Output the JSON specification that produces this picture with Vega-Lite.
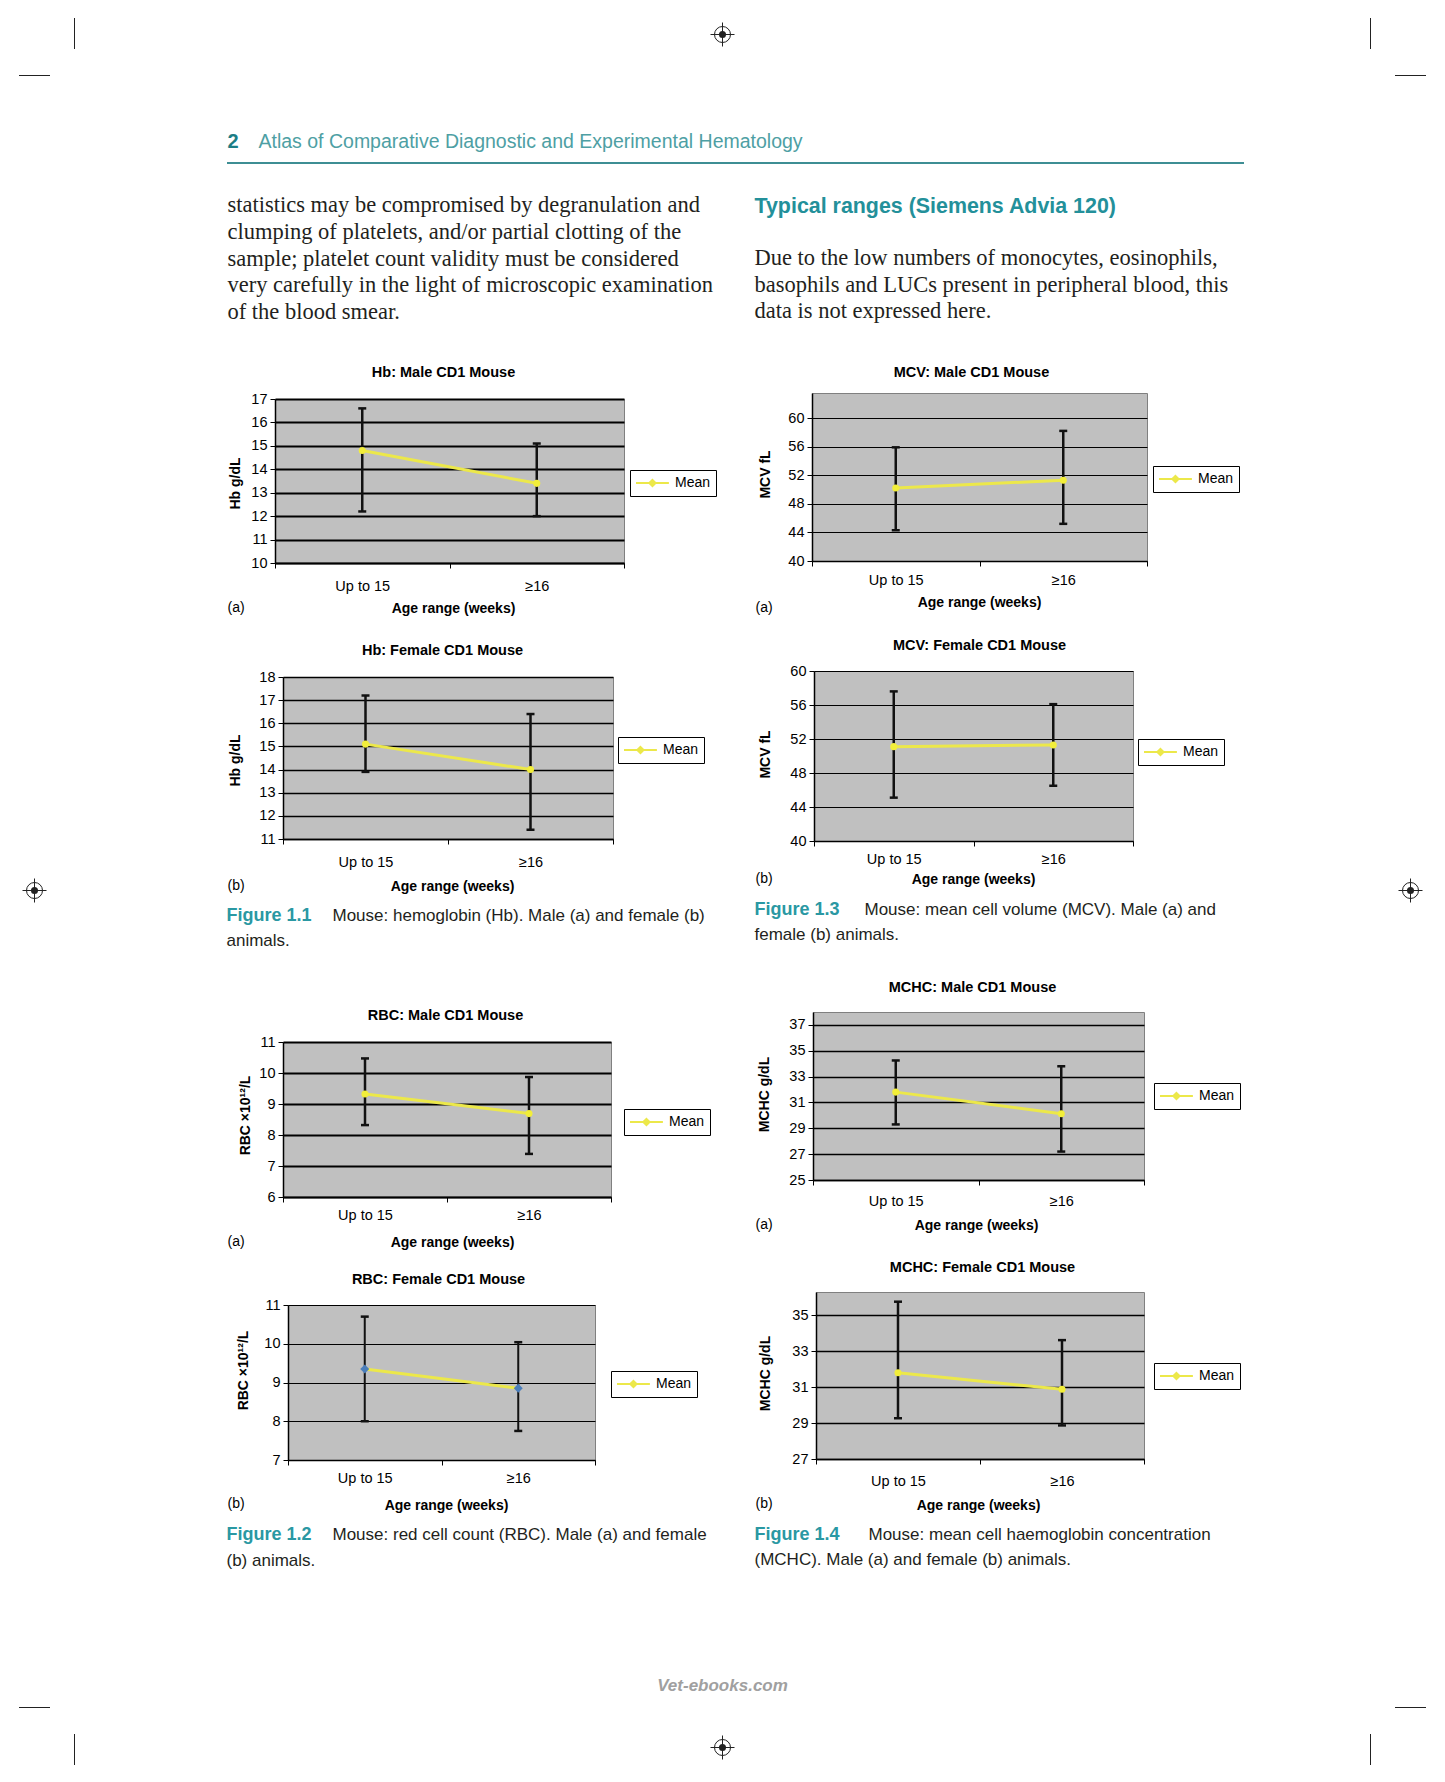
{
"$schema": "https://vega.github.io/schema/vega-lite/v6.json",
"padding": 0,
"background": "white",
"datasets": {"e": []},
"config": {
  "view": {"stroke": null},
  "font": "Liberation Sans",
  "axisX": {"labelAngle": 0, "labelFontSize": 14.5, "labelColor": "black", "tickBand": "extent", "tickSize": 5, "tickColor": "black", "domainColor": "black", "domainWidth": 1.5, "titleFontSize": 14, "titleFontWeight": "bold", "titleColor": "black", "titleBaseline": "middle", "titleAlign": "center", "grid": false},
  "axisY": {"labelFontSize": 14.5, "labelColor": "black", "labelPadding": 3, "labelOverlap": false, "tickSize": 5, "tickColor": "black", "domainColor": "black", "domainWidth": 1.5, "grid": true, "gridColor": "black", "titleFontSize": 14, "titleFontWeight": "bold", "titleColor": "black", "titleBaseline": "middle", "titleAlign": "center", "titleAngle": -90},
  "legend": {"padding": 5, "fillColor": "white", "strokeColor": "black", "symbolType": "M-1,0H3.7M1.35,-0.45L1.8,0L1.35,0.45L0.9,0Z", "symbolSize": 196, "labelOffset": 24, "labelFontSize": 14, "labelColor": "black", "labelFont": "Liberation Sans"}
},
"bounds": "flush",
"spacing": 0,
"resolve": {"scale": {"color": "independent"}, "legend": {"color": "independent"}},
"hconcat": [
{"vconcat": [{"width": 1, "height": 1, "view": {"fill": "white"}, "data": {"name": "e"}, "mark": "point"}], "spacing": 0, "bounds": "flush"},

{"vconcat": [{"width": 1, "height": 18, "data": {"name": "e"}, "mark": "point"}, {"hconcat": [{"width": 74, "height": 1, "data": {"name": "e"}, "mark": "point"}, {"width": 1, "height": 31, "view": {"fill": "#222"}, "data": {"name": "e"}, "mark": "point"}], "spacing": 0, "bounds": "flush"}], "spacing": 0, "bounds": "flush"},
{"vconcat": [{"width": 1, "height": 75, "data": {"name": "e"}, "mark": "point"}, {"hconcat": [{"width": 19, "height": 1, "data": {"name": "e"}, "mark": "point"}, {"width": 31, "height": 1, "view": {"fill": "#222"}, "data": {"name": "e"}, "mark": "point"}], "spacing": 0, "bounds": "flush"}], "spacing": 0, "bounds": "flush"},
{"vconcat": [{"width": 1, "height": 18, "data": {"name": "e"}, "mark": "point"}, {"hconcat": [{"width": 1370, "height": 1, "data": {"name": "e"}, "mark": "point"}, {"width": 1, "height": 31, "view": {"fill": "#222"}, "data": {"name": "e"}, "mark": "point"}], "spacing": 0, "bounds": "flush"}], "spacing": 0, "bounds": "flush"},
{"vconcat": [{"width": 1, "height": 75, "data": {"name": "e"}, "mark": "point"}, {"hconcat": [{"width": 1395, "height": 1, "data": {"name": "e"}, "mark": "point"}, {"width": 31, "height": 1, "view": {"fill": "#222"}, "data": {"name": "e"}, "mark": "point"}], "spacing": 0, "bounds": "flush"}], "spacing": 0, "bounds": "flush"},
{"vconcat": [{"width": 1, "height": 1707, "data": {"name": "e"}, "mark": "point"}, {"hconcat": [{"width": 19, "height": 1, "data": {"name": "e"}, "mark": "point"}, {"width": 31, "height": 1, "view": {"fill": "#222"}, "data": {"name": "e"}, "mark": "point"}], "spacing": 0, "bounds": "flush"}], "spacing": 0, "bounds": "flush"},
{"vconcat": [{"width": 1, "height": 1734, "data": {"name": "e"}, "mark": "point"}, {"hconcat": [{"width": 74, "height": 1, "data": {"name": "e"}, "mark": "point"}, {"width": 1, "height": 31, "view": {"fill": "#222"}, "data": {"name": "e"}, "mark": "point"}], "spacing": 0, "bounds": "flush"}], "spacing": 0, "bounds": "flush"},
{"vconcat": [{"width": 1, "height": 1707, "data": {"name": "e"}, "mark": "point"}, {"hconcat": [{"width": 1395, "height": 1, "data": {"name": "e"}, "mark": "point"}, {"width": 31, "height": 1, "view": {"fill": "#222"}, "data": {"name": "e"}, "mark": "point"}], "spacing": 0, "bounds": "flush"}], "spacing": 0, "bounds": "flush"},
{"vconcat": [{"width": 1, "height": 1734, "data": {"name": "e"}, "mark": "point"}, {"hconcat": [{"width": 1370, "height": 1, "data": {"name": "e"}, "mark": "point"}, {"width": 1, "height": 31, "view": {"fill": "#222"}, "data": {"name": "e"}, "mark": "point"}], "spacing": 0, "bounds": "flush"}], "spacing": 0, "bounds": "flush"},

{"vconcat": [{"width": 1, "height": 34, "data": {"name": "e"}, "mark": "point"}, {"hconcat": [{"width": 722, "height": 1, "data": {"name": "e"}, "mark": "point"}, {"width": 1, "height": 1, "data": {"values": [{"k": 1}]}, "layer": [{"mark": {"type": "point", "shape": "circle", "size": 256, "filled": false, "color": "#222", "strokeWidth": 1, "opacity": 1}, "encoding": {}}, {"mark": {"type": "point", "shape": "M-1,0H1M0,-1V1", "size": 576, "filled": false, "color": "#222", "strokeWidth": 1, "opacity": 1}, "encoding": {}}, {"mark": {"type": "point", "shape": "circle", "size": 50, "filled": true, "color": "#222", "opacity": 1}, "encoding": {}}]}], "spacing": 0, "bounds": "flush"}], "spacing": 0, "bounds": "flush"},
{"vconcat": [{"width": 1, "height": 890, "data": {"name": "e"}, "mark": "point"}, {"hconcat": [{"width": 34, "height": 1, "data": {"name": "e"}, "mark": "point"}, {"width": 1, "height": 1, "data": {"values": [{"k": 1}]}, "layer": [{"mark": {"type": "point", "shape": "circle", "size": 256, "filled": false, "color": "#222", "strokeWidth": 1, "opacity": 1}, "encoding": {}}, {"mark": {"type": "point", "shape": "M-1,0H1M0,-1V1", "size": 576, "filled": false, "color": "#222", "strokeWidth": 1, "opacity": 1}, "encoding": {}}, {"mark": {"type": "point", "shape": "circle", "size": 50, "filled": true, "color": "#222", "opacity": 1}, "encoding": {}}]}], "spacing": 0, "bounds": "flush"}], "spacing": 0, "bounds": "flush"},
{"vconcat": [{"width": 1, "height": 890, "data": {"name": "e"}, "mark": "point"}, {"hconcat": [{"width": 1410, "height": 1, "data": {"name": "e"}, "mark": "point"}, {"width": 1, "height": 1, "data": {"values": [{"k": 1}]}, "layer": [{"mark": {"type": "point", "shape": "circle", "size": 256, "filled": false, "color": "#222", "strokeWidth": 1, "opacity": 1}, "encoding": {}}, {"mark": {"type": "point", "shape": "M-1,0H1M0,-1V1", "size": 576, "filled": false, "color": "#222", "strokeWidth": 1, "opacity": 1}, "encoding": {}}, {"mark": {"type": "point", "shape": "circle", "size": 50, "filled": true, "color": "#222", "opacity": 1}, "encoding": {}}]}], "spacing": 0, "bounds": "flush"}], "spacing": 0, "bounds": "flush"},
{"vconcat": [{"width": 1, "height": 1747, "data": {"name": "e"}, "mark": "point"}, {"hconcat": [{"width": 722, "height": 1, "data": {"name": "e"}, "mark": "point"}, {"width": 1, "height": 1, "data": {"values": [{"k": 1}]}, "layer": [{"mark": {"type": "point", "shape": "circle", "size": 256, "filled": false, "color": "#222", "strokeWidth": 1, "opacity": 1}, "encoding": {}}, {"mark": {"type": "point", "shape": "M-1,0H1M0,-1V1", "size": 576, "filled": false, "color": "#222", "strokeWidth": 1, "opacity": 1}, "encoding": {}}, {"mark": {"type": "point", "shape": "circle", "size": 50, "filled": true, "color": "#222", "opacity": 1}, "encoding": {}}]}], "spacing": 0, "bounds": "flush"}], "spacing": 0, "bounds": "flush"},

{"vconcat": [{"width": 1, "height": 141, "data": {"name": "e"}, "mark": "point"}, {"hconcat": [{"width": 227, "height": 1, "data": {"name": "e"}, "mark": "point"}, {"width": 1, "height": 1, "data": {"values": [{"t": "2"}]}, "mark": {"type": "text", "align": "left", "baseline": "middle", "fontSize": 20, "fontWeight": "bold", "color": "#1C7E86"}, "encoding": {"text": {"field": "t"}}}], "spacing": 0, "bounds": "flush"}], "spacing": 0, "bounds": "flush"},
{"vconcat": [{"width": 1, "height": 141, "data": {"name": "e"}, "mark": "point"}, {"hconcat": [{"width": 258, "height": 1, "data": {"name": "e"}, "mark": "point"}, {"width": 1, "height": 1, "data": {"values": [{"t": "Atlas of Comparative Diagnostic and Experimental Hematology"}]}, "mark": {"type": "text", "align": "left", "baseline": "middle", "fontSize": 19.5, "color": "#4E9FA4"}, "encoding": {"text": {"field": "t"}}}], "spacing": 0, "bounds": "flush"}], "spacing": 0, "bounds": "flush"},
{"vconcat": [{"width": 1, "height": 162, "data": {"name": "e"}, "mark": "point"}, {"hconcat": [{"width": 227, "height": 1, "data": {"name": "e"}, "mark": "point"}, {"width": 1017, "height": 2, "view": {"fill": "#3E8E94"}, "data": {"name": "e"}, "mark": "point"}], "spacing": 0, "bounds": "flush"}], "spacing": 0, "bounds": "flush"},

{"vconcat": [{"width": 1, "height": 205, "data": {"name": "e"}, "mark": "point"}, {"hconcat": [{"width": 227, "height": 1, "data": {"name": "e"}, "mark": "point"}, {"width": 1, "height": 107, "data": {"values": [
  {"line": 1, "t": "statistics may be compromised by degranulation and"},
  {"line": 2, "t": "clumping of platelets, and/or partial clotting of the"},
  {"line": 3, "t": "sample; platelet count validity must be considered"},
  {"line": 4, "t": "very carefully in the light of microscopic examination"},
  {"line": 5, "t": "of the blood smear."}]}, "mark": {"type": "text", "align": "left", "baseline": "middle", "font": "Liberation Serif", "fontSize": 22.5, "color": "#231F20"}, "encoding": {"y": {"field": "line", "type": "quantitative", "scale": {"domain": [1, 5], "zero": false, "nice": false, "reverse": true}, "axis": null}, "text": {"field": "t"}}}], "spacing": 0, "bounds": "flush"}], "spacing": 0, "bounds": "flush"},
{"vconcat": [{"width": 1, "height": 206, "data": {"name": "e"}, "mark": "point"}, {"hconcat": [{"width": 754, "height": 1, "data": {"name": "e"}, "mark": "point"}, {"width": 1, "height": 1, "data": {"values": [{"t": "Typical ranges (Siemens Advia 120)"}]}, "mark": {"type": "text", "align": "left", "baseline": "middle", "fontSize": 21.4, "fontWeight": "bold", "color": "#23909A"}, "encoding": {"text": {"field": "t"}}}], "spacing": 0, "bounds": "flush"}], "spacing": 0, "bounds": "flush"},
{"vconcat": [{"width": 1, "height": 258, "data": {"name": "e"}, "mark": "point"}, {"hconcat": [{"width": 754, "height": 1, "data": {"name": "e"}, "mark": "point"}, {"width": 1, "height": 53, "data": {"values": [
  {"line": 1, "t": "Due to the low numbers of monocytes, eosinophils,"},
  {"line": 2, "t": "basophils and LUCs present in peripheral blood, this"},
  {"line": 3, "t": "data is not expressed here."}]}, "mark": {"type": "text", "align": "left", "baseline": "middle", "font": "Liberation Serif", "fontSize": 22.5, "color": "#231F20"}, "encoding": {"y": {"field": "line", "type": "quantitative", "scale": {"domain": [1, 3], "zero": false, "nice": false, "reverse": true}, "axis": null}, "text": {"field": "t"}}}], "spacing": 0, "bounds": "flush"}], "spacing": 0, "bounds": "flush"},

{"vconcat": [{"width": 1, "height": 399, "data": {"name": "e"}, "mark": "point"}, {"hconcat": [{"width": 275, "height": 1, "data": {"name": "e"}, "mark": "point"},
 {"width": 349, "height": 164, "view": {"fill": "#C0C0C0", "stroke": "#808080"},
  "data": {"values": [{"age": "Up to 15", "mean": 14.8, "lo": 12.2, "hi": 16.6, "series": "Mean"}, {"age": "≥16", "mean": 13.4, "lo": 12.0, "hi": 15.1, "series": "Mean"}]},
  "encoding": {"x": {"field": "age", "type": "nominal", "sort": null, "scale": {"type": "band", "paddingInner": 0, "paddingOuter": 0}, "axis": {"title": "Age range (weeks)", "titleX": 178, "titleY": 45, "labelPadding": 11.4}}},
  "layer": [
   {"mark": {"type": "rule", "color": "#111", "strokeWidth": 2.5}, "encoding": {"y": {"field": "lo", "type": "quantitative", "title": "Hb g/dL", "scale": {"domain": [10, 17], "nice": false, "zero": false}, "axis": {"values": [10, 11, 12, 13, 14, 15, 16, 17], "format": "d", "tickCount": 30, "labelOverlap": false, "gridWidth": 2, "titleX": -40, "titleY": 84}}, "y2": {"field": "hi"}}},
   {"mark": {"type": "tick", "color": "#111", "thickness": 2.5, "size": 8, "opacity": 1}, "encoding": {"y": {"field": "lo", "type": "quantitative", "title": "Hb g/dL"}}},
   {"mark": {"type": "tick", "color": "#111", "thickness": 2.5, "size": 8, "opacity": 1}, "encoding": {"y": {"field": "hi", "type": "quantitative", "title": "Hb g/dL"}}},
   {"mark": {"type": "line", "strokeWidth": 3}, "encoding": {"y": {"field": "mean", "type": "quantitative", "title": "Hb g/dL"}, "color": {"field": "series", "type": "nominal", "scale": {"range": ["#ECE84A"]}, "legend": {"orient": "none", "legendX": 355, "legendY": 71, "title": null, "encode": {"symbols": {"update": {"fill": {"value": "#F2EE3A"}, "stroke": {"value": "#ECE84A"}, "strokeWidth": {"value": 2}, "opacity": {"value": 1}}}}}}}},
   {"mark": {"type": "point", "filled": true, "size": 50, "color": "#F2EE3A", "opacity": 1}, "encoding": {"y": {"field": "mean", "type": "quantitative", "title": "Hb g/dL"}}}
  ]}
 ], "spacing": 0, "bounds": "flush", "resolve": {"scale": {"color": "independent"}, "legend": {"color": "independent"}}}], "spacing": 0, "bounds": "flush", "resolve": {"scale": {"color": "independent"}, "legend": {"color": "independent"}}},

{"vconcat": [{"width": 1, "height": 393, "data": {"name": "e"}, "mark": "point"}, {"hconcat": [{"width": 812, "height": 1, "data": {"name": "e"}, "mark": "point"},
 {"width": 335, "height": 168, "view": {"fill": "#C0C0C0", "stroke": "#808080"},
  "data": {"values": [{"age": "Up to 15", "mean": 50.2, "lo": 44.3, "hi": 55.9, "series": "Mean"}, {"age": "≥16", "mean": 51.3, "lo": 45.2, "hi": 58.2, "series": "Mean"}]},
  "encoding": {"x": {"field": "age", "type": "nominal", "sort": null, "scale": {"type": "band", "paddingInner": 0, "paddingOuter": 0}, "axis": {"title": "Age range (weeks)", "titleX": 167, "titleY": 41, "labelPadding": 7.7}}},
  "layer": [
   {"mark": {"type": "rule", "color": "#111", "strokeWidth": 2.5}, "encoding": {"y": {"field": "lo", "type": "quantitative", "title": "MCV fL", "scale": {"domain": [40, 63.5], "nice": false, "zero": false}, "axis": {"values": [40, 44, 48, 52, 56, 60], "format": "d", "tickCount": 30, "labelOverlap": false, "gridWidth": 1, "titleX": -47, "titleY": 81}}, "y2": {"field": "hi"}}},
   {"mark": {"type": "tick", "color": "#111", "thickness": 2.5, "size": 8, "opacity": 1}, "encoding": {"y": {"field": "lo", "type": "quantitative", "title": "MCV fL"}}},
   {"mark": {"type": "tick", "color": "#111", "thickness": 2.5, "size": 8, "opacity": 1}, "encoding": {"y": {"field": "hi", "type": "quantitative", "title": "MCV fL"}}},
   {"mark": {"type": "line", "strokeWidth": 3}, "encoding": {"y": {"field": "mean", "type": "quantitative", "title": "MCV fL"}, "color": {"field": "series", "type": "nominal", "scale": {"range": ["#ECE84A"]}, "legend": {"orient": "none", "legendX": 341, "legendY": 73, "title": null, "encode": {"symbols": {"update": {"fill": {"value": "#F2EE3A"}, "stroke": {"value": "#ECE84A"}, "strokeWidth": {"value": 2}, "opacity": {"value": 1}}}}}}}},
   {"mark": {"type": "point", "filled": true, "size": 50, "color": "#F2EE3A", "opacity": 1}, "encoding": {"y": {"field": "mean", "type": "quantitative", "title": "MCV fL"}}}
  ]}
 ], "spacing": 0, "bounds": "flush", "resolve": {"scale": {"color": "independent"}, "legend": {"color": "independent"}}}], "spacing": 0, "bounds": "flush", "resolve": {"scale": {"color": "independent"}, "legend": {"color": "independent"}}},

{"vconcat": [{"width": 1, "height": 677, "data": {"name": "e"}, "mark": "point"}, {"hconcat": [{"width": 283, "height": 1, "data": {"name": "e"}, "mark": "point"},
 {"width": 330, "height": 162, "view": {"fill": "#C0C0C0", "stroke": "#808080"},
  "data": {"values": [{"age": "Up to 15", "mean": 15.1, "lo": 13.9, "hi": 17.2, "series": "Mean"}, {"age": "≥16", "mean": 14.0, "lo": 11.4, "hi": 16.4, "series": "Mean"}]},
  "encoding": {"x": {"field": "age", "type": "nominal", "sort": null, "scale": {"type": "band", "paddingInner": 0, "paddingOuter": 0}, "axis": {"title": "Age range (weeks)", "titleX": 169, "titleY": 47, "labelPadding": 11.4}}},
  "layer": [
   {"mark": {"type": "rule", "color": "#111", "strokeWidth": 2.5}, "encoding": {"y": {"field": "lo", "type": "quantitative", "title": "Hb g/dL", "scale": {"domain": [11, 18], "nice": false, "zero": false}, "axis": {"values": [11, 12, 13, 14, 15, 16, 17, 18], "format": "d", "tickCount": 30, "labelOverlap": false, "gridWidth": 1.5, "titleX": -48, "titleY": 83}}, "y2": {"field": "hi"}}},
   {"mark": {"type": "tick", "color": "#111", "thickness": 2.5, "size": 8, "opacity": 1}, "encoding": {"y": {"field": "lo", "type": "quantitative", "title": "Hb g/dL"}}},
   {"mark": {"type": "tick", "color": "#111", "thickness": 2.5, "size": 8, "opacity": 1}, "encoding": {"y": {"field": "hi", "type": "quantitative", "title": "Hb g/dL"}}},
   {"mark": {"type": "line", "strokeWidth": 3}, "encoding": {"y": {"field": "mean", "type": "quantitative", "title": "Hb g/dL"}, "color": {"field": "series", "type": "nominal", "scale": {"range": ["#ECE84A"]}, "legend": {"orient": "none", "legendX": 335, "legendY": 60, "title": null, "encode": {"symbols": {"update": {"fill": {"value": "#F2EE3A"}, "stroke": {"value": "#ECE84A"}, "strokeWidth": {"value": 2}, "opacity": {"value": 1}}}}}}}},
   {"mark": {"type": "point", "filled": true, "size": 50, "color": "#F2EE3A", "opacity": 1}, "encoding": {"y": {"field": "mean", "type": "quantitative", "title": "Hb g/dL"}}}
  ]}
 ], "spacing": 0, "bounds": "flush", "resolve": {"scale": {"color": "independent"}, "legend": {"color": "independent"}}}], "spacing": 0, "bounds": "flush", "resolve": {"scale": {"color": "independent"}, "legend": {"color": "independent"}}},

{"vconcat": [{"width": 1, "height": 671, "data": {"name": "e"}, "mark": "point"}, {"hconcat": [{"width": 814, "height": 1, "data": {"name": "e"}, "mark": "point"},
 {"width": 319, "height": 170, "view": {"fill": "#C0C0C0", "stroke": "#808080"},
  "data": {"values": [{"age": "Up to 15", "mean": 51.1, "lo": 45.1, "hi": 57.6, "series": "Mean"}, {"age": "≥16", "mean": 51.3, "lo": 46.5, "hi": 56.1, "series": "Mean"}]},
  "encoding": {"x": {"field": "age", "type": "nominal", "sort": null, "scale": {"type": "band", "paddingInner": 0, "paddingOuter": 0}, "axis": {"title": "Age range (weeks)", "titleX": 159, "titleY": 38, "labelPadding": 6.7}}},
  "layer": [
   {"mark": {"type": "rule", "color": "#111", "strokeWidth": 2.5}, "encoding": {"y": {"field": "lo", "type": "quantitative", "title": "MCV fL", "scale": {"domain": [40, 60], "nice": false, "zero": false}, "axis": {"values": [40, 44, 48, 52, 56, 60], "format": "d", "tickCount": 30, "labelOverlap": false, "gridWidth": 1, "titleX": -49, "titleY": 83}}, "y2": {"field": "hi"}}},
   {"mark": {"type": "tick", "color": "#111", "thickness": 2.5, "size": 8, "opacity": 1}, "encoding": {"y": {"field": "lo", "type": "quantitative", "title": "MCV fL"}}},
   {"mark": {"type": "tick", "color": "#111", "thickness": 2.5, "size": 8, "opacity": 1}, "encoding": {"y": {"field": "hi", "type": "quantitative", "title": "MCV fL"}}},
   {"mark": {"type": "line", "strokeWidth": 3}, "encoding": {"y": {"field": "mean", "type": "quantitative", "title": "MCV fL"}, "color": {"field": "series", "type": "nominal", "scale": {"range": ["#ECE84A"]}, "legend": {"orient": "none", "legendX": 324, "legendY": 68, "title": null, "encode": {"symbols": {"update": {"fill": {"value": "#F2EE3A"}, "stroke": {"value": "#ECE84A"}, "strokeWidth": {"value": 2}, "opacity": {"value": 1}}}}}}}},
   {"mark": {"type": "point", "filled": true, "size": 50, "color": "#F2EE3A", "opacity": 1}, "encoding": {"y": {"field": "mean", "type": "quantitative", "title": "MCV fL"}}}
  ]}
 ], "spacing": 0, "bounds": "flush", "resolve": {"scale": {"color": "independent"}, "legend": {"color": "independent"}}}], "spacing": 0, "bounds": "flush", "resolve": {"scale": {"color": "independent"}, "legend": {"color": "independent"}}},

{"vconcat": [{"width": 1, "height": 1042, "data": {"name": "e"}, "mark": "point"}, {"hconcat": [{"width": 283, "height": 1, "data": {"name": "e"}, "mark": "point"},
 {"width": 328, "height": 155, "view": {"fill": "#C0C0C0", "stroke": "#808080"},
  "data": {"values": [{"age": "Up to 15", "mean": 9.32, "lo": 8.32, "hi": 10.47, "series": "Mean"}, {"age": "≥16", "mean": 8.69, "lo": 7.39, "hi": 9.87, "series": "Mean"}]},
  "encoding": {"x": {"field": "age", "type": "nominal", "sort": null, "scale": {"type": "band", "paddingInner": 0, "paddingOuter": 0}, "axis": {"title": "Age range (weeks)", "titleX": 169, "titleY": 45, "labelPadding": 6.7}}},
  "layer": [
   {"mark": {"type": "rule", "color": "#111", "strokeWidth": 2.5}, "encoding": {"y": {"field": "lo", "type": "quantitative", "title": "RBC ×10¹²/L", "scale": {"domain": [6, 11], "nice": false, "zero": false}, "axis": {"values": [6, 7, 8, 9, 10, 11], "format": "d", "tickCount": 30, "labelOverlap": false, "gridWidth": 2, "titleX": -38, "titleY": 73}}, "y2": {"field": "hi"}}},
   {"mark": {"type": "tick", "color": "#111", "thickness": 2.5, "size": 8, "opacity": 1}, "encoding": {"y": {"field": "lo", "type": "quantitative", "title": "RBC ×10¹²/L"}}},
   {"mark": {"type": "tick", "color": "#111", "thickness": 2.5, "size": 8, "opacity": 1}, "encoding": {"y": {"field": "hi", "type": "quantitative", "title": "RBC ×10¹²/L"}}},
   {"mark": {"type": "line", "strokeWidth": 3}, "encoding": {"y": {"field": "mean", "type": "quantitative", "title": "RBC ×10¹²/L"}, "color": {"field": "series", "type": "nominal", "scale": {"range": ["#ECE84A"]}, "legend": {"orient": "none", "legendX": 341, "legendY": 67, "title": null, "encode": {"symbols": {"update": {"fill": {"value": "#F2EE3A"}, "stroke": {"value": "#ECE84A"}, "strokeWidth": {"value": 2}, "opacity": {"value": 1}}}}}}}},
   {"mark": {"type": "point", "filled": true, "size": 50, "color": "#F2EE3A", "opacity": 1}, "encoding": {"y": {"field": "mean", "type": "quantitative", "title": "RBC ×10¹²/L"}}}
  ]}
 ], "spacing": 0, "bounds": "flush", "resolve": {"scale": {"color": "independent"}, "legend": {"color": "independent"}}}], "spacing": 0, "bounds": "flush", "resolve": {"scale": {"color": "independent"}, "legend": {"color": "independent"}}},

{"vconcat": [{"width": 1, "height": 1012, "data": {"name": "e"}, "mark": "point"}, {"hconcat": [{"width": 813, "height": 1, "data": {"name": "e"}, "mark": "point"},
 {"width": 331, "height": 168, "view": {"fill": "#C0C0C0", "stroke": "#808080"},
  "data": {"values": [{"age": "Up to 15", "mean": 31.8, "lo": 29.3, "hi": 34.25, "series": "Mean"}, {"age": "≥16", "mean": 30.13, "lo": 27.2, "hi": 33.8, "series": "Mean"}]},
  "encoding": {"x": {"field": "age", "type": "nominal", "sort": null, "scale": {"type": "band", "paddingInner": 0, "paddingOuter": 0}, "axis": {"title": "Age range (weeks)", "titleX": 163, "titleY": 45, "labelPadding": 9.7}}},
  "layer": [
   {"mark": {"type": "rule", "color": "#111", "strokeWidth": 2.5}, "encoding": {"y": {"field": "lo", "type": "quantitative", "title": "MCHC g/dL", "scale": {"domain": [25, 38], "nice": false, "zero": false}, "axis": {"values": [25, 27, 29, 31, 33, 35, 37], "format": "d", "tickCount": 30, "labelOverlap": false, "gridWidth": 1.5, "titleX": -49, "titleY": 82}}, "y2": {"field": "hi"}}},
   {"mark": {"type": "tick", "color": "#111", "thickness": 2.5, "size": 8, "opacity": 1}, "encoding": {"y": {"field": "lo", "type": "quantitative", "title": "MCHC g/dL"}}},
   {"mark": {"type": "tick", "color": "#111", "thickness": 2.5, "size": 8, "opacity": 1}, "encoding": {"y": {"field": "hi", "type": "quantitative", "title": "MCHC g/dL"}}},
   {"mark": {"type": "line", "strokeWidth": 3}, "encoding": {"y": {"field": "mean", "type": "quantitative", "title": "MCHC g/dL"}, "color": {"field": "series", "type": "nominal", "scale": {"range": ["#ECE84A"]}, "legend": {"orient": "none", "legendX": 341, "legendY": 71, "title": null, "encode": {"symbols": {"update": {"fill": {"value": "#F2EE3A"}, "stroke": {"value": "#ECE84A"}, "strokeWidth": {"value": 2}, "opacity": {"value": 1}}}}}}}},
   {"mark": {"type": "point", "filled": true, "size": 50, "color": "#F2EE3A", "opacity": 1}, "encoding": {"y": {"field": "mean", "type": "quantitative", "title": "MCHC g/dL"}}}
  ]}
 ], "spacing": 0, "bounds": "flush", "resolve": {"scale": {"color": "independent"}, "legend": {"color": "independent"}}}], "spacing": 0, "bounds": "flush", "resolve": {"scale": {"color": "independent"}, "legend": {"color": "independent"}}},

{"vconcat": [{"width": 1, "height": 1305, "data": {"name": "e"}, "mark": "point"}, {"hconcat": [{"width": 288, "height": 1, "data": {"name": "e"}, "mark": "point"},
 {"width": 307, "height": 155, "view": {"fill": "#C0C0C0", "stroke": "#808080"},
  "data": {"values": [{"age": "Up to 15", "mean": 9.35, "lo": 8.0, "hi": 10.7, "series": "Mean"}, {"age": "≥16", "mean": 8.85, "lo": 7.75, "hi": 10.04, "series": "Mean"}]},
  "encoding": {"x": {"field": "age", "type": "nominal", "sort": null, "scale": {"type": "band", "paddingInner": 0, "paddingOuter": 0}, "axis": {"title": "Age range (weeks)", "titleX": 158, "titleY": 45, "labelPadding": 6.4}}},
  "layer": [
   {"mark": {"type": "rule", "color": "#111", "strokeWidth": 2}, "encoding": {"y": {"field": "lo", "type": "quantitative", "title": "RBC ×10¹²/L", "scale": {"domain": [7, 11], "nice": false, "zero": false}, "axis": {"values": [7, 8, 9, 10, 11], "format": "d", "tickCount": 30, "labelOverlap": false, "gridWidth": 1.2, "titleX": -45, "titleY": 65}}, "y2": {"field": "hi"}}},
   {"mark": {"type": "tick", "color": "#111", "thickness": 2.5, "size": 8, "opacity": 1}, "encoding": {"y": {"field": "lo", "type": "quantitative", "title": "RBC ×10¹²/L"}}},
   {"mark": {"type": "tick", "color": "#111", "thickness": 2.5, "size": 8, "opacity": 1}, "encoding": {"y": {"field": "hi", "type": "quantitative", "title": "RBC ×10¹²/L"}}},
   {"mark": {"type": "line", "strokeWidth": 3}, "encoding": {"y": {"field": "mean", "type": "quantitative", "title": "RBC ×10¹²/L"}, "color": {"field": "series", "type": "nominal", "scale": {"range": ["#ECE84A"]}, "legend": {"orient": "none", "legendX": 323, "legendY": 66, "title": null, "encode": {"symbols": {"update": {"fill": {"value": "#F2EE3A"}, "stroke": {"value": "#ECE84A"}, "strokeWidth": {"value": 2}, "opacity": {"value": 1}}}}}}}},
   {"mark": {"type": "point", "filled": true, "shape": "diamond", "size": 80, "color": "#4A7EBB", "opacity": 1}, "encoding": {"y": {"field": "mean", "type": "quantitative", "title": "RBC ×10¹²/L"}}}
  ]}
 ], "spacing": 0, "bounds": "flush", "resolve": {"scale": {"color": "independent"}, "legend": {"color": "independent"}}}], "spacing": 0, "bounds": "flush", "resolve": {"scale": {"color": "independent"}, "legend": {"color": "independent"}}},

{"vconcat": [{"width": 1, "height": 1292, "data": {"name": "e"}, "mark": "point"}, {"hconcat": [{"width": 816, "height": 1, "data": {"name": "e"}, "mark": "point"},
 {"width": 328, "height": 167, "view": {"fill": "#C0C0C0", "stroke": "#808080"},
  "data": {"values": [{"age": "Up to 15", "mean": 31.8, "lo": 29.27, "hi": 35.76, "series": "Mean"}, {"age": "≥16", "mean": 30.88, "lo": 28.87, "hi": 33.62, "series": "Mean"}]},
  "encoding": {"x": {"field": "age", "type": "nominal", "sort": null, "scale": {"type": "band", "paddingInner": 0, "paddingOuter": 0}, "axis": {"title": "Age range (weeks)", "titleX": 162, "titleY": 46, "labelPadding": 10.7}}},
  "layer": [
   {"mark": {"type": "rule", "color": "#111", "strokeWidth": 2.5}, "encoding": {"y": {"field": "lo", "type": "quantitative", "title": "MCHC g/dL", "scale": {"domain": [27, 36.3], "nice": false, "zero": false}, "axis": {"values": [27, 29, 31, 33, 35], "format": "d", "tickCount": 30, "labelOverlap": false, "gridWidth": 1.5, "titleX": -51, "titleY": 81}}, "y2": {"field": "hi"}}},
   {"mark": {"type": "tick", "color": "#111", "thickness": 2.5, "size": 8, "opacity": 1}, "encoding": {"y": {"field": "lo", "type": "quantitative", "title": "MCHC g/dL"}}},
   {"mark": {"type": "tick", "color": "#111", "thickness": 2.5, "size": 8, "opacity": 1}, "encoding": {"y": {"field": "hi", "type": "quantitative", "title": "MCHC g/dL"}}},
   {"mark": {"type": "line", "strokeWidth": 3}, "encoding": {"y": {"field": "mean", "type": "quantitative", "title": "MCHC g/dL"}, "color": {"field": "series", "type": "nominal", "scale": {"range": ["#ECE84A"]}, "legend": {"orient": "none", "legendX": 338, "legendY": 71, "title": null, "encode": {"symbols": {"update": {"fill": {"value": "#F2EE3A"}, "stroke": {"value": "#ECE84A"}, "strokeWidth": {"value": 2}, "opacity": {"value": 1}}}}}}}},
   {"mark": {"type": "point", "filled": true, "size": 50, "color": "#F2EE3A", "opacity": 1}, "encoding": {"y": {"field": "mean", "type": "quantitative", "title": "MCHC g/dL"}}}
  ]}
 ], "spacing": 0, "bounds": "flush", "resolve": {"scale": {"color": "independent"}, "legend": {"color": "independent"}}}], "spacing": 0, "bounds": "flush", "resolve": {"scale": {"color": "independent"}, "legend": {"color": "independent"}}},

{"vconcat": [{"width": 1, "height": 372, "data": {"name": "e"}, "mark": "point"}, {"hconcat": [{"width": 443, "height": 1, "data": {"name": "e"}, "mark": "point"}, {"width": 1, "height": 1, "data": {"values": [{"t": "Hb: Male CD1 Mouse"}]}, "mark": {"type": "text", "align": "center", "baseline": "middle", "fontSize": 14.5, "fontWeight": "bold", "color": "black"}, "encoding": {"text": {"field": "t"}}}], "spacing": 0, "bounds": "flush"}], "spacing": 0, "bounds": "flush"},
{"vconcat": [{"width": 1, "height": 372, "data": {"name": "e"}, "mark": "point"}, {"hconcat": [{"width": 971, "height": 1, "data": {"name": "e"}, "mark": "point"}, {"width": 1, "height": 1, "data": {"values": [{"t": "MCV: Male CD1 Mouse"}]}, "mark": {"type": "text", "align": "center", "baseline": "middle", "fontSize": 14.5, "fontWeight": "bold", "color": "black"}, "encoding": {"text": {"field": "t"}}}], "spacing": 0, "bounds": "flush"}], "spacing": 0, "bounds": "flush"},
{"vconcat": [{"width": 1, "height": 650, "data": {"name": "e"}, "mark": "point"}, {"hconcat": [{"width": 442, "height": 1, "data": {"name": "e"}, "mark": "point"}, {"width": 1, "height": 1, "data": {"values": [{"t": "Hb: Female CD1 Mouse"}]}, "mark": {"type": "text", "align": "center", "baseline": "middle", "fontSize": 14.5, "fontWeight": "bold", "color": "black"}, "encoding": {"text": {"field": "t"}}}], "spacing": 0, "bounds": "flush"}], "spacing": 0, "bounds": "flush"},
{"vconcat": [{"width": 1, "height": 645, "data": {"name": "e"}, "mark": "point"}, {"hconcat": [{"width": 979, "height": 1, "data": {"name": "e"}, "mark": "point"}, {"width": 1, "height": 1, "data": {"values": [{"t": "MCV: Female CD1  Mouse"}]}, "mark": {"type": "text", "align": "center", "baseline": "middle", "fontSize": 14.5, "fontWeight": "bold", "color": "black"}, "encoding": {"text": {"field": "t"}}}], "spacing": 0, "bounds": "flush"}], "spacing": 0, "bounds": "flush"},
{"vconcat": [{"width": 1, "height": 1015, "data": {"name": "e"}, "mark": "point"}, {"hconcat": [{"width": 445, "height": 1, "data": {"name": "e"}, "mark": "point"}, {"width": 1, "height": 1, "data": {"values": [{"t": "RBC: Male CD1 Mouse"}]}, "mark": {"type": "text", "align": "center", "baseline": "middle", "fontSize": 14.5, "fontWeight": "bold", "color": "black"}, "encoding": {"text": {"field": "t"}}}], "spacing": 0, "bounds": "flush"}], "spacing": 0, "bounds": "flush"},
{"vconcat": [{"width": 1, "height": 987, "data": {"name": "e"}, "mark": "point"}, {"hconcat": [{"width": 972, "height": 1, "data": {"name": "e"}, "mark": "point"}, {"width": 1, "height": 1, "data": {"values": [{"t": "MCHC: Male CD1 Mouse"}]}, "mark": {"type": "text", "align": "center", "baseline": "middle", "fontSize": 14.5, "fontWeight": "bold", "color": "black"}, "encoding": {"text": {"field": "t"}}}], "spacing": 0, "bounds": "flush"}], "spacing": 0, "bounds": "flush"},
{"vconcat": [{"width": 1, "height": 1279, "data": {"name": "e"}, "mark": "point"}, {"hconcat": [{"width": 438, "height": 1, "data": {"name": "e"}, "mark": "point"}, {"width": 1, "height": 1, "data": {"values": [{"t": "RBC: Female CD1 Mouse"}]}, "mark": {"type": "text", "align": "center", "baseline": "middle", "fontSize": 14.5, "fontWeight": "bold", "color": "black"}, "encoding": {"text": {"field": "t"}}}], "spacing": 0, "bounds": "flush"}], "spacing": 0, "bounds": "flush"},
{"vconcat": [{"width": 1, "height": 1267, "data": {"name": "e"}, "mark": "point"}, {"hconcat": [{"width": 982, "height": 1, "data": {"name": "e"}, "mark": "point"}, {"width": 1, "height": 1, "data": {"values": [{"t": "MCHC: Female CD1 Mouse"}]}, "mark": {"type": "text", "align": "center", "baseline": "middle", "fontSize": 14.5, "fontWeight": "bold", "color": "black"}, "encoding": {"text": {"field": "t"}}}], "spacing": 0, "bounds": "flush"}], "spacing": 0, "bounds": "flush"},

{"vconcat": [{"width": 1, "height": 607, "data": {"name": "e"}, "mark": "point"}, {"hconcat": [{"width": 227, "height": 1, "data": {"name": "e"}, "mark": "point"}, {"width": 1, "height": 1, "data": {"values": [{"t": "(a)"}]}, "mark": {"type": "text", "align": "left", "baseline": "middle", "fontSize": 14, "color": "black"}, "encoding": {"text": {"field": "t"}}}], "spacing": 0, "bounds": "flush"}], "spacing": 0, "bounds": "flush"},
{"vconcat": [{"width": 1, "height": 607, "data": {"name": "e"}, "mark": "point"}, {"hconcat": [{"width": 755, "height": 1, "data": {"name": "e"}, "mark": "point"}, {"width": 1, "height": 1, "data": {"values": [{"t": "(a)"}]}, "mark": {"type": "text", "align": "left", "baseline": "middle", "fontSize": 14, "color": "black"}, "encoding": {"text": {"field": "t"}}}], "spacing": 0, "bounds": "flush"}], "spacing": 0, "bounds": "flush"},
{"vconcat": [{"width": 1, "height": 885, "data": {"name": "e"}, "mark": "point"}, {"hconcat": [{"width": 227, "height": 1, "data": {"name": "e"}, "mark": "point"}, {"width": 1, "height": 1, "data": {"values": [{"t": "(b)"}]}, "mark": {"type": "text", "align": "left", "baseline": "middle", "fontSize": 14, "color": "black"}, "encoding": {"text": {"field": "t"}}}], "spacing": 0, "bounds": "flush"}], "spacing": 0, "bounds": "flush"},
{"vconcat": [{"width": 1, "height": 878, "data": {"name": "e"}, "mark": "point"}, {"hconcat": [{"width": 755, "height": 1, "data": {"name": "e"}, "mark": "point"}, {"width": 1, "height": 1, "data": {"values": [{"t": "(b)"}]}, "mark": {"type": "text", "align": "left", "baseline": "middle", "fontSize": 14, "color": "black"}, "encoding": {"text": {"field": "t"}}}], "spacing": 0, "bounds": "flush"}], "spacing": 0, "bounds": "flush"},
{"vconcat": [{"width": 1, "height": 1241, "data": {"name": "e"}, "mark": "point"}, {"hconcat": [{"width": 227, "height": 1, "data": {"name": "e"}, "mark": "point"}, {"width": 1, "height": 1, "data": {"values": [{"t": "(a)"}]}, "mark": {"type": "text", "align": "left", "baseline": "middle", "fontSize": 14, "color": "black"}, "encoding": {"text": {"field": "t"}}}], "spacing": 0, "bounds": "flush"}], "spacing": 0, "bounds": "flush"},
{"vconcat": [{"width": 1, "height": 1224, "data": {"name": "e"}, "mark": "point"}, {"hconcat": [{"width": 755, "height": 1, "data": {"name": "e"}, "mark": "point"}, {"width": 1, "height": 1, "data": {"values": [{"t": "(a)"}]}, "mark": {"type": "text", "align": "left", "baseline": "middle", "fontSize": 14, "color": "black"}, "encoding": {"text": {"field": "t"}}}], "spacing": 0, "bounds": "flush"}], "spacing": 0, "bounds": "flush"},
{"vconcat": [{"width": 1, "height": 1503, "data": {"name": "e"}, "mark": "point"}, {"hconcat": [{"width": 227, "height": 1, "data": {"name": "e"}, "mark": "point"}, {"width": 1, "height": 1, "data": {"values": [{"t": "(b)"}]}, "mark": {"type": "text", "align": "left", "baseline": "middle", "fontSize": 14, "color": "black"}, "encoding": {"text": {"field": "t"}}}], "spacing": 0, "bounds": "flush"}], "spacing": 0, "bounds": "flush"},
{"vconcat": [{"width": 1, "height": 1503, "data": {"name": "e"}, "mark": "point"}, {"hconcat": [{"width": 755, "height": 1, "data": {"name": "e"}, "mark": "point"}, {"width": 1, "height": 1, "data": {"values": [{"t": "(b)"}]}, "mark": {"type": "text", "align": "left", "baseline": "middle", "fontSize": 14, "color": "black"}, "encoding": {"text": {"field": "t"}}}], "spacing": 0, "bounds": "flush"}], "spacing": 0, "bounds": "flush"},

{"vconcat": [{"width": 1, "height": 915, "data": {"name": "e"}, "mark": "point"}, {"hconcat": [{"width": 226, "height": 1, "data": {"name": "e"}, "mark": "point"}, {"width": 1, "height": 1, "data": {"values": [{"t": "Figure 1.1"}]}, "mark": {"type": "text", "align": "left", "baseline": "middle", "fontSize": 18, "fontWeight": "bold", "color": "#2A98A3"}, "encoding": {"text": {"field": "t"}}}], "spacing": 0, "bounds": "flush"}], "spacing": 0, "bounds": "flush"},
{"vconcat": [{"width": 1, "height": 915, "data": {"name": "e"}, "mark": "point"}, {"hconcat": [{"width": 332, "height": 1, "data": {"name": "e"}, "mark": "point"}, {"width": 1, "height": 1, "data": {"values": [{"t": "Mouse: hemoglobin (Hb). Male (a) and female (b)"}]}, "mark": {"type": "text", "align": "left", "baseline": "middle", "fontSize": 17, "color": "#231F20"}, "encoding": {"text": {"field": "t"}}}], "spacing": 0, "bounds": "flush"}], "spacing": 0, "bounds": "flush"},
{"vconcat": [{"width": 1, "height": 940, "data": {"name": "e"}, "mark": "point"}, {"hconcat": [{"width": 226, "height": 1, "data": {"name": "e"}, "mark": "point"}, {"width": 1, "height": 1, "data": {"values": [{"t": "animals."}]}, "mark": {"type": "text", "align": "left", "baseline": "middle", "fontSize": 17, "color": "#231F20"}, "encoding": {"text": {"field": "t"}}}], "spacing": 0, "bounds": "flush"}], "spacing": 0, "bounds": "flush"},
{"vconcat": [{"width": 1, "height": 909, "data": {"name": "e"}, "mark": "point"}, {"hconcat": [{"width": 754, "height": 1, "data": {"name": "e"}, "mark": "point"}, {"width": 1, "height": 1, "data": {"values": [{"t": "Figure 1.3"}]}, "mark": {"type": "text", "align": "left", "baseline": "middle", "fontSize": 18, "fontWeight": "bold", "color": "#2A98A3"}, "encoding": {"text": {"field": "t"}}}], "spacing": 0, "bounds": "flush"}], "spacing": 0, "bounds": "flush"},
{"vconcat": [{"width": 1, "height": 909, "data": {"name": "e"}, "mark": "point"}, {"hconcat": [{"width": 864, "height": 1, "data": {"name": "e"}, "mark": "point"}, {"width": 1, "height": 1, "data": {"values": [{"t": "Mouse: mean cell volume (MCV). Male (a) and"}]}, "mark": {"type": "text", "align": "left", "baseline": "middle", "fontSize": 17, "color": "#231F20"}, "encoding": {"text": {"field": "t"}}}], "spacing": 0, "bounds": "flush"}], "spacing": 0, "bounds": "flush"},
{"vconcat": [{"width": 1, "height": 934, "data": {"name": "e"}, "mark": "point"}, {"hconcat": [{"width": 754, "height": 1, "data": {"name": "e"}, "mark": "point"}, {"width": 1, "height": 1, "data": {"values": [{"t": "female (b) animals."}]}, "mark": {"type": "text", "align": "left", "baseline": "middle", "fontSize": 17, "color": "#231F20"}, "encoding": {"text": {"field": "t"}}}], "spacing": 0, "bounds": "flush"}], "spacing": 0, "bounds": "flush"},
{"vconcat": [{"width": 1, "height": 1534, "data": {"name": "e"}, "mark": "point"}, {"hconcat": [{"width": 226, "height": 1, "data": {"name": "e"}, "mark": "point"}, {"width": 1, "height": 1, "data": {"values": [{"t": "Figure 1.2"}]}, "mark": {"type": "text", "align": "left", "baseline": "middle", "fontSize": 18, "fontWeight": "bold", "color": "#2A98A3"}, "encoding": {"text": {"field": "t"}}}], "spacing": 0, "bounds": "flush"}], "spacing": 0, "bounds": "flush"},
{"vconcat": [{"width": 1, "height": 1534, "data": {"name": "e"}, "mark": "point"}, {"hconcat": [{"width": 332, "height": 1, "data": {"name": "e"}, "mark": "point"}, {"width": 1, "height": 1, "data": {"values": [{"t": "Mouse: red cell count (RBC). Male (a) and female"}]}, "mark": {"type": "text", "align": "left", "baseline": "middle", "fontSize": 17, "color": "#231F20"}, "encoding": {"text": {"field": "t"}}}], "spacing": 0, "bounds": "flush"}], "spacing": 0, "bounds": "flush"},
{"vconcat": [{"width": 1, "height": 1560, "data": {"name": "e"}, "mark": "point"}, {"hconcat": [{"width": 226, "height": 1, "data": {"name": "e"}, "mark": "point"}, {"width": 1, "height": 1, "data": {"values": [{"t": "(b) animals."}]}, "mark": {"type": "text", "align": "left", "baseline": "middle", "fontSize": 17, "color": "#231F20"}, "encoding": {"text": {"field": "t"}}}], "spacing": 0, "bounds": "flush"}], "spacing": 0, "bounds": "flush"},
{"vconcat": [{"width": 1, "height": 1534, "data": {"name": "e"}, "mark": "point"}, {"hconcat": [{"width": 754, "height": 1, "data": {"name": "e"}, "mark": "point"}, {"width": 1, "height": 1, "data": {"values": [{"t": "Figure 1.4"}]}, "mark": {"type": "text", "align": "left", "baseline": "middle", "fontSize": 18, "fontWeight": "bold", "color": "#2A98A3"}, "encoding": {"text": {"field": "t"}}}], "spacing": 0, "bounds": "flush"}], "spacing": 0, "bounds": "flush"},
{"vconcat": [{"width": 1, "height": 1534, "data": {"name": "e"}, "mark": "point"}, {"hconcat": [{"width": 868, "height": 1, "data": {"name": "e"}, "mark": "point"}, {"width": 1, "height": 1, "data": {"values": [{"t": "Mouse: mean cell haemoglobin concentration"}]}, "mark": {"type": "text", "align": "left", "baseline": "middle", "fontSize": 17, "color": "#231F20"}, "encoding": {"text": {"field": "t"}}}], "spacing": 0, "bounds": "flush"}], "spacing": 0, "bounds": "flush"},
{"vconcat": [{"width": 1, "height": 1559, "data": {"name": "e"}, "mark": "point"}, {"hconcat": [{"width": 754, "height": 1, "data": {"name": "e"}, "mark": "point"}, {"width": 1, "height": 1, "data": {"values": [{"t": "(MCHC). Male (a) and female (b) animals."}]}, "mark": {"type": "text", "align": "left", "baseline": "middle", "fontSize": 17, "color": "#231F20"}, "encoding": {"text": {"field": "t"}}}], "spacing": 0, "bounds": "flush"}], "spacing": 0, "bounds": "flush"},

{"vconcat": [{"width": 1, "height": 1685, "data": {"name": "e"}, "mark": "point"}, {"hconcat": [{"width": 722, "height": 1, "data": {"name": "e"}, "mark": "point"}, {"width": 1, "height": 1, "data": {"values": [{"t": "Vet-ebooks.com"}]}, "mark": {"type": "text", "align": "center", "baseline": "middle", "fontSize": 17, "fontWeight": "bold", "fontStyle": "italic", "color": "#A0A0A0"}, "encoding": {"text": {"field": "t"}}}], "spacing": 0, "bounds": "flush"}], "spacing": 0, "bounds": "flush"}
]
}
